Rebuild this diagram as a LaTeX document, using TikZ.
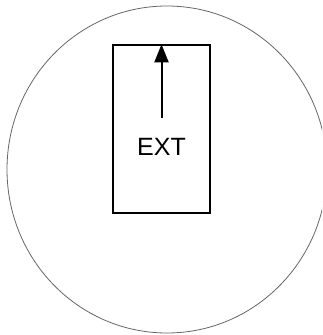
\documentclass[tikz,border=0pt]{standalone}
\usepackage{fontspec}
\setmainfont{Liberation Sans}
\usetikzlibrary{arrows.meta}
\begin{document}
\begin{tikzpicture}[x=1pt, y=-1pt,
    box/.style={draw, thick, line width=1.4pt, minimum width=97pt, minimum height=168pt, inner sep=0pt},
    lbl/.style={font=\fontsize{25}{30}\selectfont, inner sep=0pt}]
    \useasboundingbox (0,0) rectangle (322,335);
    \clip (0,0) rectangle (322,335);

    % outer circle
    \draw[gray!80!black, line width=0.8pt] (167,169.5) ellipse (160 and 163.5);

    % extension box
    \node[box] (ext) at (161.5,129) {};
    \node[lbl] (extlbl) at (161.5,147) {EXT};

    % arrow up
    \coordinate (start) at (161.5,118);
    \draw[line width=2pt, -{Triangle[length=18pt, width=14pt]}] (start) -- (ext.north -| start);
\end{tikzpicture}
\end{document}
